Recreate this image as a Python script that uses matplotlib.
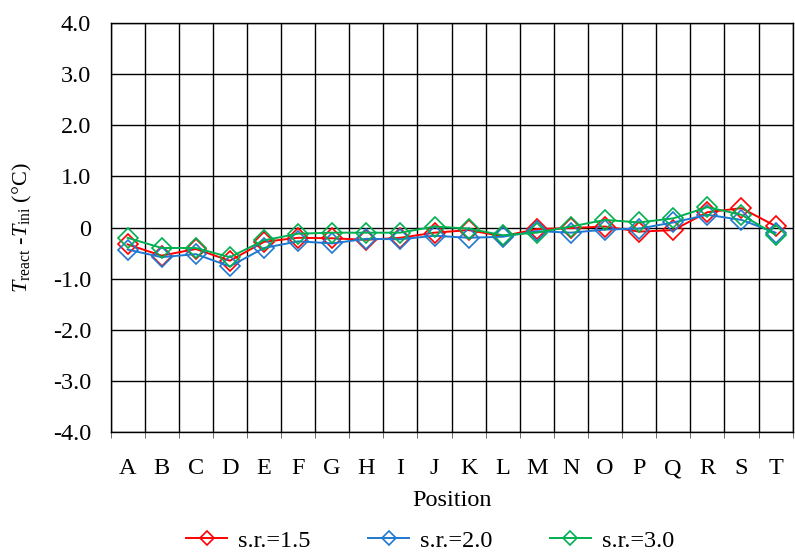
import matplotlib.pyplot as plt
import numpy as np

# ─── Data ──────────────────────────────────────────────────────────────────────
positions = list("ABCDEFGHIJKLMNOPQRST")
sr_15 = [-0.33, -0.55, -0.42, -0.65, -0.28, -0.20, -0.21, -0.24, -0.20, -0.10,
         -0.05, -0.17, -0.03, -0.01, 0.02, -0.08, -0.05, 0.30, 0.38, 0.03]
sr_20 = [-0.43, -0.58, -0.52, -0.76, -0.40, -0.27, -0.31, -0.22, -0.23, -0.16,
         -0.20, -0.18, -0.07, -0.10, -0.04, -0.02, 0.10, 0.25, 0.15, -0.10]
sr_30 = [-0.20, -0.40, -0.40, -0.58, -0.25, -0.12, -0.10, -0.10, -0.10, 0.02,
         -0.02, -0.15, -0.10, 0.02, 0.15, 0.10, 0.18, 0.40, 0.25, -0.14]

series = [("s.r.=1.5", sr_15, "#FF0000"),
          ("s.r.=2.0", sr_20, "#1F78D1"),
          ("s.r.=3.0", sr_30, "#00B050")]

plt.rcParams["font.family"] = ["Liberation Serif", "DejaVu Serif"]
plt.rcParams["mathtext.fontset"] = "custom"
plt.rcParams["mathtext.rm"] = "Liberation Serif"
plt.rcParams["mathtext.it"] = "Liberation Serif:italic"

FS = 17.5

fig = plt.figure(figsize=(7.95, 5.53), dpi=100)
ax = fig.add_axes([0.139, 0.219, 0.858, 0.739])

x = np.arange(len(positions))
for label, vals, col in series:
    ax.plot(x, vals, color=col, lw=1.4, marker="D", ms=10, mfc="none",
            mec=col, mew=1.2, label=label)

ax.set_xlim(-0.5, len(positions) - 0.5)
ax.set_ylim(-4, 4)
ax.set_yticks(np.arange(-4, 5, 1))
ax.set_yticklabels(["0" if v == 0 else f"{v:.1f}" for v in np.arange(-4, 5, 1)])
ax.set_xticks(x)
ax.set_xticklabels(positions)
ax.set_xticks(np.arange(-0.5, len(positions)), minor=True)
ax.tick_params(axis="x", which="major", length=0, labelsize=FS, pad=19)
ax.tick_params(axis="x", which="minor", length=4, direction="out", color="#555555")
ax.tick_params(axis="y", length=0, labelsize=FS, pad=14)
ax.grid(True, which="minor", axis="x", color="black", lw=1.0)
ax.grid(True, which="major", axis="y", color="black", lw=1.0)
for s in ax.spines.values():
    s.set_linewidth(1.0)
    s.set_color("black")

ax.set_xlabel("Position", fontsize=FS, labelpad=8)
ax.set_ylabel(r"$T_\mathrm{react}$ -$T_\mathrm{ini}$ (°C)", fontsize=16)
ax.yaxis.set_label_coords(-0.112, 0.5)

fig.legend(loc="center", bbox_to_anchor=(0.541, 0.022), ncol=3, frameon=False,
           fontsize=FS, columnspacing=2.35, handlelength=1.7, handletextpad=0.45,
           markerscale=0.75, borderpad=0)

fig.savefig("out.png", dpi=100)
